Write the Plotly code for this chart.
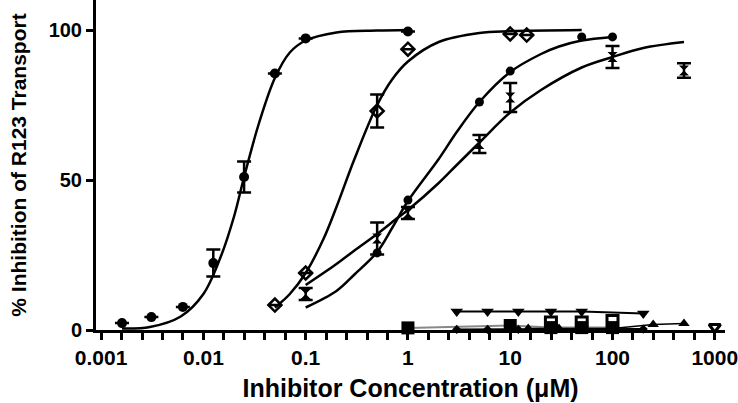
import plotly.graph_objects as go

# compound A - filled circles (most potent)
a_conc = [0.0016, 0.0031, 0.0063, 0.0125, 0.025, 0.05, 0.1, 1]
a_inh = [2.3, 4.3, 7.7, 22.3, 51, 85.5, 97.2, 99.5]
a_err = [0, 0, 0, 4.5, 5.2, 0, 0, 0]
a_fit_x = [0.0016, 0.003, 0.006, 0.01, 0.015, 0.02, 0.025, 0.035, 0.05, 0.07, 0.1, 0.2, 0.5, 1]
a_fit_y = [0.5, 1.0, 4.5, 12, 25, 38, 51, 69, 84, 92.5, 96.5, 99.2, 99.8, 100]

# compound B - open diamonds
b_conc = [0.05, 0.1, 0.5, 1, 10, 14.5]
b_inh = [8.3, 19, 73, 93.6, 98.7, 98.3]
b_err = [0, 0, 5.5, 0, 0, 0]
b_fit_x = [0.05, 0.07, 0.1, 0.15, 0.2, 0.3, 0.5, 0.7, 1, 2, 5, 10, 50]
b_fit_y = [7.5, 12, 19, 30.5, 41, 57, 75, 83.5, 89.5, 96, 99, 99.6, 100]

# compound C - small filled circles
c_conc = [0.5, 1, 5, 10, 50, 100]
c_inh = [25.7, 43.3, 76, 86.3, 97.7, 97.7]
c_fit_x = [0.1, 0.2, 0.3, 0.5, 0.7, 1, 2, 3, 5, 10, 20, 30, 50, 100]
c_fit_y = [7.5, 13, 18.5, 26, 34, 43, 57, 66, 76, 86, 92, 94.5, 96.5, 97.7]

# compound D - star markers with SEM
d_conc = [0.1, 0.5, 1, 5, 10, 100, 500]
d_inh = [12, 30.5, 39, 62, 77.5, 91, 86.5]
d_err = [2, 5.3, 2, 3, 4.8, 3.7, 2.4]
d_fit_x = [0.1, 0.2, 0.3, 0.5, 0.8, 1, 2, 3, 5, 10, 20, 50, 100, 200, 500]
d_fit_y = [15, 22, 26.5, 32, 37.5, 40, 49, 55, 62.5, 72.5, 80, 87.5, 91, 94, 96]

# inactive compounds near zero
vtri_conc = [3, 6, 12, 25, 50, 200]
vtri_inh = [6.2, 6.2, 6.2, 6.2, 6.2, 5.5]
sq_conc = [1, 10, 25, 50, 100]
sq_inh = [0.7, 1.5, 0.8, 0.8, 0.8]
osq_conc = [25, 50, 100]
osq_inh = [2.5, 2.5, 3.0]
tri_conc = [15, 30, 100, 250, 500]
tri_inh = [0.5, 0.5, 0.5, 1.8, 2.2]
dia_conc = [3, 6, 12, 25, 50, 100, 200]
dia_inh = [0.2, 0.2, 0.2, 0.2, 0.2, 0.2, 0.3]
ovtri_conc = [1000]
ovtri_inh = [1.0]

x_major = [0.001, 0.01, 0.1, 1, 10, 100, 1000]
x_major_text = ["0.001", "0.01", "0.1", "1", "10", "100", "1000"]
x_minor = [10 ** (d + f) for d in range(-3, 3) for f in (0.2, 0.4, 0.6, 0.8)]

FONT = "Liberation Sans, Arial, sans-serif"
BLK = "black"

fig = go.Figure()

# fitted curves
for fx, fy in [(a_fit_x, a_fit_y), (b_fit_x, b_fit_y), (c_fit_x, c_fit_y), (d_fit_x, d_fit_y)]:
    fig.add_trace(go.Scatter(x=fx, y=fy, mode="lines", line=dict(color=BLK, width=2.5, shape="spline"),
                             cliponaxis=False))

# near-zero series
fig.add_trace(go.Scatter(x=sq_conc, y=sq_inh, mode="lines+markers", line=dict(color="#888", width=2),
                         marker=dict(symbol="square", size=13, color=BLK), cliponaxis=False))
fig.add_trace(go.Scatter(x=dia_conc, y=dia_inh, mode="lines+markers", line=dict(color=BLK, width=2),
                         marker=dict(symbol="diamond", size=7, color=BLK), cliponaxis=False))
fig.add_trace(go.Scatter(x=tri_conc, y=tri_inh, mode="lines+markers", line=dict(color=BLK, width=1.5),
                         marker=dict(symbol="triangle-up", size=10, color=BLK), cliponaxis=False))
fig.add_trace(go.Scatter(x=osq_conc, y=osq_inh, mode="markers",
                         marker=dict(symbol="square-open", size=11, color=BLK, line=dict(width=3)),
                         cliponaxis=False))
fig.add_trace(go.Scatter(x=vtri_conc, y=vtri_inh, mode="lines+markers", line=dict(color=BLK, width=2),
                         marker=dict(symbol="triangle-down", size=11, color=BLK), cliponaxis=False))
fig.add_trace(go.Scatter(x=ovtri_conc, y=ovtri_inh, mode="markers",
                         marker=dict(symbol="triangle-down-open", size=10, color=BLK, line=dict(width=3)),
                         cliponaxis=False))

# active compounds
fig.add_trace(go.Scatter(x=a_conc, y=a_inh, mode="markers",
                         marker=dict(symbol="circle", size=10, color=BLK),
                         error_y=dict(type="data", array=a_err, color=BLK, thickness=2.5, width=7),
                         cliponaxis=False))
fig.add_trace(go.Scatter(x=b_conc, y=b_inh, mode="markers",
                         marker=dict(symbol="diamond-open", size=10, color=BLK, line=dict(width=2.5)),
                         error_y=dict(type="data", array=b_err, color=BLK, thickness=2.5, width=7),
                         cliponaxis=False))
fig.add_trace(go.Scatter(x=c_conc, y=c_inh, mode="markers",
                         marker=dict(symbol="circle", size=9, color=BLK), cliponaxis=False))
fig.add_trace(go.Scatter(x=d_conc, y=d_inh, mode="markers",
                         marker=dict(symbol="hourglass", size=10, color=BLK),
                         error_y=dict(type="data", array=d_err, color=BLK, thickness=2.5, width=7),
                         cliponaxis=False))

fig.update_layout(
    width=738, height=403,
    margin=dict(l=96, r=13, t=0, b=73, autoexpand=False),
    plot_bgcolor="white", paper_bgcolor="white",
    showlegend=False,
    font=dict(family=FONT, color=BLK, size=20, weight="bold"),
    xaxis=dict(
        type="log", range=[-3.05, 3.1],
        tickvals=x_major, ticktext=x_major_text,
        ticks="outside", ticklen=7, tickwidth=3, tickcolor=BLK,
        minor=dict(tickvals=x_minor, ticks="outside", ticklen=7, tickwidth=3, tickcolor=BLK),
        showline=True, linewidth=3, linecolor=BLK, showgrid=False, zeroline=False,
        tickfont=dict(size=21, family=FONT, weight="bold"),
        ticklabeloverflow="allow",
        title=dict(text="Inhibitor Concentration (μM)", font=dict(size=25, family=FONT, weight="bold"),
                   standoff=12),
    ),
    yaxis=dict(
        range=[0, 110],
        tickvals=[0, 50, 100],
        ticks="outside", ticklen=7, tickwidth=3, tickcolor=BLK,
        showline=True, linewidth=3, linecolor=BLK, showgrid=False, zeroline=False,
        tickfont=dict(size=20, family=FONT, weight="bold"),
        title=dict(text="% Inhibition of R123 Transport", font=dict(size=21, family=FONT, weight="bold"),
                   standoff=17),
    ),
)

fig.write_html("out.html", config={"displayModeBar": False},
               post_script="document.body.style.margin='0';")
